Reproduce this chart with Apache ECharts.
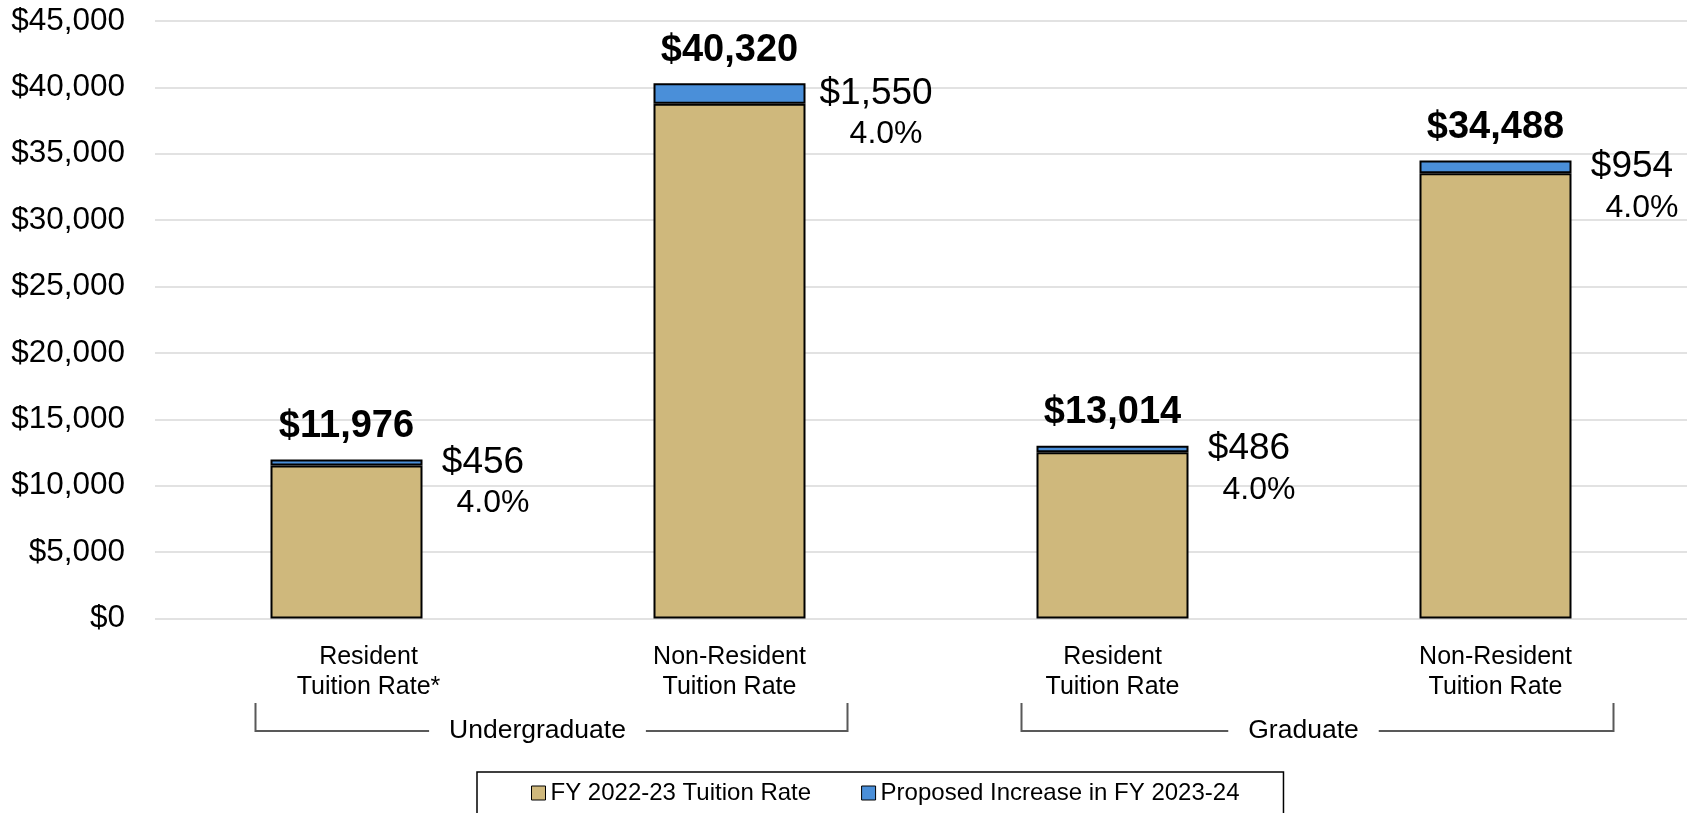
<!DOCTYPE html>
<html>
<head>
<meta charset="utf-8">
<script src="https://cdn.jsdelivr.net/npm/echarts@6/dist/echarts.min.js"></script>
<style>html,body{margin:0;padding:0;background:#fff;}#c{width:1700px;height:813px;}</style>
</head>
<body>
<div id="c"></div>
<script>
const categories = ['Resident\nTuition Rate*', 'Non-Resident\nTuition Rate', 'Resident\nTuition Rate', 'Non-Resident\nTuition Rate'];
const groups = ['Undergraduate', 'Graduate'];
const baseRates = [11520, 38770, 12528, 33534];
const increases = [456, 1550, 486, 954];
const totals = [11976, 40320, 13014, 34488];
const pctLabels = ['4.0%', '4.0%', '4.0%', '4.0%'];
const seriesNames = ['FY 2022-23 Tuition Rate', 'Proposed Increase in FY 2023-24'];
const yTicks = { min: 0, max: 45000, interval: 5000 };

const SANS = '"Liberation Sans", Arial, Helvetica, sans-serif';
const money = v => '$' + Number(v).toLocaleString('en-US');

const chart = echarts.init(document.getElementById('c'), null, { renderer: 'canvas' });
const option = {
  animation: false,
  backgroundColor: '#fff',
  textStyle: { fontFamily: SANS, color: '#000' },
  grid: { left: 155, right: 13, top: 21, bottom: 194.4, containLabel: false },
  legend: {
    data: seriesNames,
    left: 477, top: 772,
    padding: [9, 44, 40, 54],
    itemGap: 50,
    itemWidth: 14, itemHeight: 14,
    icon: 'rect',
    borderColor: '#000', borderWidth: 1.5,
    itemStyle: { borderColor: '#000', borderWidth: 1 },
    textStyle: { fontFamily: SANS, fontSize: 24, color: '#000' }
  },
  xAxis: {
    type: 'category',
    data: categories,
    axisLine: { show: false },
    axisTick: { show: false },
    axisLabel: {
      fontFamily: SANS, fontSize: 25, lineHeight: 30, color: '#000', margin: 24, interval: 0,
      formatter: (v, i) => i === 0
        ? v.split('\n').map(s => '{s|' + s + '}').join('\n')
        : v,
      rich: { s: { fontFamily: SANS, fontSize: 25, lineHeight: 30, color: '#000', padding: [0, 0, 0, 44] } }
    }
  },
  yAxis: {
    type: 'value',
    min: yTicks.min, max: yTicks.max, interval: yTicks.interval,
    axisLine: { show: false },
    axisTick: { show: false },
    splitLine: { lineStyle: { color: '#D9D9D9', width: 1.5 } },
    axisLabel: { fontFamily: SANS, fontSize: 31.5, color: '#000', margin: 30, formatter: v => money(v) }
  },
  series: [
    {
      name: seriesNames[0], type: 'bar', stack: 'total', barWidth: 152,
      data: baseRates,
      itemStyle: { color: '#CFB87C', borderColor: '#000', borderWidth: 2 }
    },
    {
      name: seriesNames[1], type: 'bar', stack: 'total', barWidth: 152,
      data: increases,
      itemStyle: { color: '#4A8FD9', borderColor: '#000', borderWidth: 2 },
      label: {
        show: true, position: 'right', distance: 14, offset: [0, 20],
        formatter: p => '{a|' + money(p.value) + '}\n{b|' + pctLabels[p.dataIndex] + '}',
        rich: {
          a: { fontFamily: SANS, fontSize: 37, lineHeight: 42, color: '#000', align: 'center' },
          b: { fontFamily: SANS, fontSize: 32, lineHeight: 40, color: '#000', align: 'center', padding: [0, 0, 0, 20] }
        }
      }
    },
    {
      name: 'Total', type: 'scatter', data: totals, symbolSize: 0, silent: true,
      itemStyle: { opacity: 1 },
      label: {
        show: true, position: 'top', distance: 14, opacity: 1,
        fontFamily: SANS, fontSize: 38, fontWeight: 'bold', color: '#000',
        formatter: p => money(p.value)
      }
    }
  ]
};
chart.setOption(option);

function drawBrackets() {
  const els = [];
  const yTop = 703, yBot = 731;
  for (let g = 0; g < groups.length; g++) {
    const c0 = chart.convertToPixel({ xAxisIndex: 0 }, g * 2);
    const c1 = chart.convertToPixel({ xAxisIndex: 0 }, g * 2 + 1);
    const x0 = c0 - 91, x1 = c1 + 118;
    els.push({
      type: 'polyline', silent: true,
      shape: { points: [[x0, yTop], [x0, yBot], [x1, yBot], [x1, yTop]] },
      style: { stroke: '#595959', lineWidth: 2, fill: null }
    });
    els.push({
      type: 'text', silent: true, z: 10,
      x: (x0 + x1) / 2 - 14, y: yBot,
      style: {
        text: groups[g], fontFamily: SANS, fontSize: 26.5, fill: '#000',
        align: 'center', verticalAlign: 'middle',
        backgroundColor: '#fff', padding: [2, 20, 2, 20]
      }
    });
  }
  chart.setOption({ graphic: { elements: els } });
}
drawBrackets();
</script>
</body>
</html>
